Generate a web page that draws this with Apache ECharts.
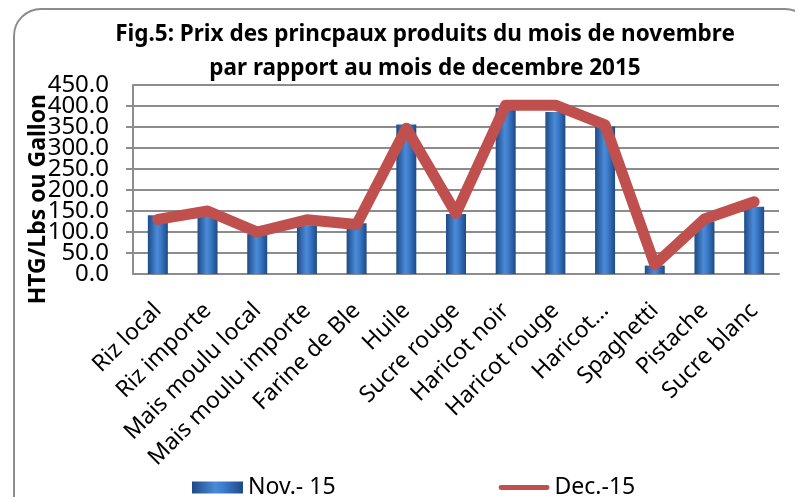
<!DOCTYPE html>
<html lang="fr">
<head>
    <meta charset="UTF-8">
    <title>Fig.5</title>
    <script src="https://cdn.jsdelivr.net/npm/echarts@6/dist/echarts.min.js"></script>
    <style>
        html, body { margin: 0; padding: 0; background: #fff; }
        #wrap { position: relative; width: 795px; height: 497px; overflow: hidden; }
        #frame { position: absolute; left: 13px; top: 8px; width: 800px; height: 520px;
                 border: 2px solid #8c8c8c; border-radius: 28px; box-sizing: border-box; }
        #chart1 { position: absolute; left: 0; top: 0; width: 795px; height: 497px; }
    </style>
</head>
<body>
<div id="wrap">
    <div id="frame"></div>
    <div id="chart1"></div>
</div>
<script type="text/javascript">
    // donnees
    var produits = ['Riz local', 'Riz importe', 'Mais moulu local', 'Mais moulu importe', 'Farine de Ble',
        'Huile', 'Sucre rouge', 'Haricot noir', 'Haricot rouge', 'Haricot...', 'Spaghetti', 'Pistache', 'Sucre blanc'];
    var nov15 = [140, 138, 95, 116, 121, 356, 143, 395, 386, 351, 20, 125, 160];
    var dec15 = [130, 150, 100, 129, 118, 347, 144, 402, 402, 355, 22, 131, 172];

    var font = 'Noto Sans';
    var yLabel = {
        fontSize: 24, color: '#000', margin: 24, fontFamily: font,
        formatter: function (v) { return v.toFixed(1); }
    };
    var myChart1 = echarts.init(document.getElementById('chart1'));
    myChart1.setOption({
        animation: false,
        textStyle: { fontFamily: font },
        title: {
            text: 'Fig.5: Prix des princpaux produits du mois de novembre\npar rapport au mois de decembre 2015',
            left: 420,
            top: 13,
            textAlign: 'center',
            textStyle: { fontSize: 22.5, fontWeight: 'bold', color: '#000', lineHeight: 34, fontFamily: font }
        },
        legend: {
            left: 187,
            top: 471,
            itemGap: 163,
            itemWidth: 51,
            itemHeight: 12,
            textStyle: { fontSize: 23, color: '#000', fontFamily: font },
            data: [
                { name: 'Nov.- 15', icon: 'rect' },
                { name: 'Dec.-15', icon: 'path://M0,0L0,0M0,12L0,12M2,3.5L49,3.5A2.5,2.5,0,0,1,49,8.5L2,8.5A2.5,2.5,0,0,1,2,3.5Z' }
            ]
        },
        grid: { left: 133, right: 16, top: 85, bottom: 223, containLabel: false },
        xAxis: {
            type: 'category',
            data: produits,
            axisLine: { lineStyle: { color: '#8c8c8c', width: 2 } },
            axisTick: { alignWithLabel: false, length: 7, lineStyle: { color: '#8c8c8c', width: 2 } },
            axisLabel: { rotate: 45, fontSize: 23, color: '#000', margin: 33, interval: 0, fontFamily: font }
        },
        yAxis: [{
            type: 'value',
            min: 0,
            max: 450,
            interval: 50,
            axisLine: { show: true, lineStyle: { color: '#8c8c8c', width: 2 } },
            axisTick: { show: true, length: 7, lineStyle: { color: '#8c8c8c', width: 2 } },
            splitLine: { lineStyle: { color: '#8c8c8c', width: 2 } },
            axisLabel: Object.assign({ showMinLabel: false, showMaxLabel: false }, yLabel)
        }, {
            // second axe pour afficher 0.0 et 450.0 sans masquage
            type: 'value',
            position: 'left',
            offset: 0,
            min: 0,
            max: 450,
            interval: 450,
            axisLine: { show: false },
            axisTick: { show: false },
            splitLine: { show: false },
            axisLabel: yLabel
        }],
        graphic: [{
            type: 'text',
            left: 27,
            top: 94,
            rotation: Math.PI / 2,
            style: { text: 'HTG/Lbs ou Gallon', font: 'bold 23px "Noto Sans"', fill: '#000' }
        }],
        series: [{
            name: 'Nov.- 15',
            type: 'bar',
            barWidth: 20,
            data: nov15,
            itemStyle: {
                color: new echarts.graphic.LinearGradient(0, 0, 1, 0, [
                    { offset: 0, color: '#1d4a86' },
                    { offset: 0.45, color: '#4a8ad6' },
                    { offset: 0.6, color: '#3f7fcf' },
                    { offset: 1, color: '#1d4a86' }
                ])
            }
        }, {
            name: 'Dec.-15',
            type: 'line',
            data: dec15,
            symbol: 'none',
            lineStyle: { color: '#c0504d', width: 11, join: 'round', cap: 'round' },
            itemStyle: { color: '#c0504d' }
        }]
    });
</script>
</body>
</html>
